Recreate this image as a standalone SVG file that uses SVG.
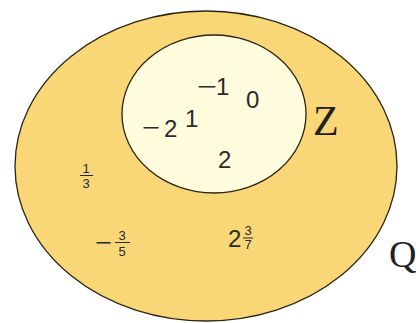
<svg xmlns="http://www.w3.org/2000/svg" width="420" height="323" viewBox="0 0 420 323">
<style>
.n{font-family:"Liberation Sans",Arial,sans-serif;font-size:24px;fill:#2a2a2a}
.m{font-family:"Liberation Sans",Arial,sans-serif;font-size:22px;fill:#2a2a2a}
.f{font-family:"Liberation Sans",Arial,sans-serif;font-size:13px;fill:#2a2a2a;text-anchor:middle}
.s{font-family:"Liberation Serif","Times New Roman",serif;fill:#222}
.bar{stroke:#2a2a2a;stroke-width:1}
</style>
<rect width="420" height="323" fill="#ffffff"/>
<g id="Q">
<ellipse cx="206" cy="166" rx="191" ry="155" fill="#F9D776" stroke="#2b2413" stroke-width="1.3"/>
<text class="s" x="389" y="267" font-size="38">Q</text>
<g id="q13"><text class="f" x="86" y="173">1</text><line class="bar" x1="80" y1="175.5" x2="93" y2="175.5"/><text class="f" x="86" y="188">3</text></g>
<g id="q35"><text class="m" x="95" y="249.5" textLength="17" lengthAdjust="spacingAndGlyphs">−</text><text class="f" x="122" y="240">3</text><line class="bar" x1="115" y1="242.5" x2="130" y2="242.5"/><text class="f" x="122" y="256">5</text></g>
<g id="q237"><text class="n" x="228" y="247">2</text><text class="f" x="248" y="235" font-size="10.5">3</text><line class="bar" x1="243" y1="238" x2="253" y2="238"/><text class="f" x="248" y="249" font-size="10.5">7</text></g>
</g>
<g id="Z">
<ellipse cx="214" cy="114" rx="92" ry="79" fill="#FFFBDD" stroke="#2b2413" stroke-width="1.3"/>
<text class="s" x="313" y="135" font-size="42">Z</text>
<text class="m" x="197" y="93.5" textLength="20" lengthAdjust="spacingAndGlyphs">−</text>
<text class="n" x="216" y="95">1</text>
<text class="n" x="246" y="108">0</text>
<text class="m" x="142" y="134.5" textLength="18" lengthAdjust="spacingAndGlyphs">−</text>
<text class="n" x="164" y="137">2</text>
<text class="n" x="185" y="127">1</text>
<text class="n" x="218" y="168">2</text>
</g>
</svg>
